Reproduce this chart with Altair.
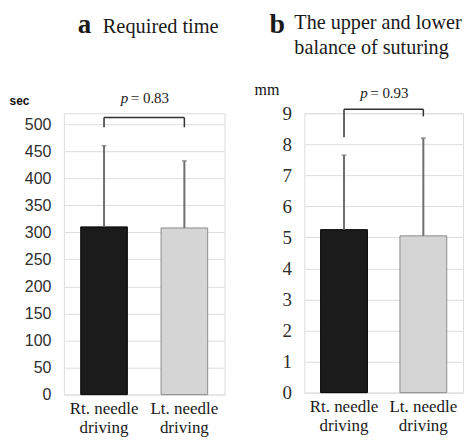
import altair as alt
import pandas as pd

categories = ["Rt. needle|driving", "Lt. needle|driving"]
time_mean = [310, 308]
time_upper = [460, 432]
balance_mean = [5.25, 5.05]
balance_upper = [7.65, 8.2]
time_ticks = [0, 50, 100, 150, 200, 250, 300, 350, 400, 450, 500]
balance_ticks = [0, 1, 2, 3, 4, 5, 6, 7, 8, 9]
bar_fill = ["#1b1b1b", "#d5d5d5"]
bar_stroke = ["#000000", "#8c8c8c"]

SERIF = "Liberation Serif"
SANS = "Liberation Sans"


def txt(s, x, y, size, font=SERIF, weight="normal", style="normal", align="left", color="#1a1a1a"):
    return alt.Chart(pd.DataFrame({"t": [s]})).mark_text(
        font=font, fontSize=size, fontWeight=weight, fontStyle=style,
        align=align, baseline="alphabetic", color=color
    ).encode(x=alt.value(x), y=alt.value(y), text="t:N")


def panel(means, uppers, ymax, ticks, width, height, brk, unit, unit_font, unit_size, unit_weight,
          unit_x, unit_y, tick_font, tick_size, pval, p_x, p_y, titles, pad):
    df = pd.DataFrame({"cat": categories, "mean": means, "upper": uppers,
                       "fill": bar_fill, "stroke": bar_stroke})
    xscale = alt.Scale(domain=categories, paddingInner=pad, paddingOuter=pad / 2)
    xaxis = alt.Axis(title=None, labelAngle=0, labelFont=SERIF, labelFontSize=17,
                     labelColor="#1a1a1a", labelLineHeight=19, labelPadding=6,
                     labelBaseline="top", labelOverlap=False,
                     labelExpr="split(datum.value, '|')", domain=False, ticks=False)
    yscale = alt.Scale(domain=[0, ymax], nice=False)
    yaxis = alt.Axis(values=ticks, title=unit, titleAngle=0, titleX=unit_x, titleY=unit_y,
                     titleAlign="center", titleBaseline="alphabetic",
                     titleFont=unit_font, titleFontSize=unit_size, titleFontWeight=unit_weight,
                     titleColor="#111111", labelOverlap=False, labelFlush=False,
                     labelFont=tick_font, labelFontSize=tick_size, labelColor="#2e2e2e",
                     labelPadding=13, domain=False, ticks=False,
                     grid=True, gridColor="#dedede", gridWidth=1)

    def X(f):
        return alt.X(f, scale=xscale, axis=xaxis)

    def Y(f):
        return alt.Y(f, scale=yscale, axis=yaxis)

    base = alt.Chart(df)
    bars = base.mark_bar(strokeWidth=1).encode(
        x=X("cat:N"), y=Y("mean:Q"),
        fill=alt.Fill("fill:N", scale=None),
        stroke=alt.Stroke("stroke:N", scale=None),
    )
    err = base.mark_rule(color="#6f6f6f", strokeWidth=2).encode(
        x=X("cat:N"), y=Y("mean:Q"), y2="upper:Q")
    cap = base.mark_tick(color="#6f6f6f", thickness=1.5, size=5, orient="horizontal").encode(
        x=X("cat:N"), y=Y("upper:Q"))
    bdf = pd.DataFrame({"a": [categories[0]], "b": [categories[1]], "y": [brk[0]]})
    top = alt.Chart(bdf).mark_rule(color="#333333", strokeWidth=1.5).encode(
        x=X("a:N"), x2="b:N", y=Y("y:Q"))
    ldf = pd.DataFrame({"cat": categories, "y": [brk[0], brk[0]], "y2": [brk[1], brk[2]]})
    legs = alt.Chart(ldf).mark_rule(color="#333333", strokeWidth=1.5).encode(
        x=X("cat:N"), y=Y("y:Q"), y2="y2:Q")
    layers = [bars, err, cap, top, legs,
              txt("p", p_x, p_y, 15, style="italic"),
              txt("= " + pval, p_x + 10, p_y, 15)]
    for t in titles:
        layers.append(txt(*t))
    return alt.layer(*layers).properties(width=width, height=height)


left = panel(time_mean, time_upper, 520, time_ticks, 161, 282, [512, 494, 494],
             "sec", SANS, 12, "bold", -45, -9, SANS, 16, "0.83", 57, -10,
             [("a", 14, -80, 27, SERIF, "bold"), ("Required time", 39, -80, 20.4)], 0.42)
right = panel(balance_mean, balance_upper, 9, balance_ticks, 159, 280, [9.13, 8.23, 8.9],
              "mm", SERIF, 16, "normal", -38, -19, SERIF, 19, "0.93", 56, -15,
              [("b", -35, -80, 28, SERIF, "bold"), ("The upper and lower", -10, -84, 20.2),
               ("balance of suturing", -10, -59, 20.2)], 0.41)

chart = alt.hconcat(left, right, spacing=80, bounds="flush").properties(
    padding={"left": 0, "top": 2, "right": 0, "bottom": 0}
).configure_view(stroke=None).configure(background="white")

chart.save("out.html", embed_options={"renderer": "svg", "actions": False})
